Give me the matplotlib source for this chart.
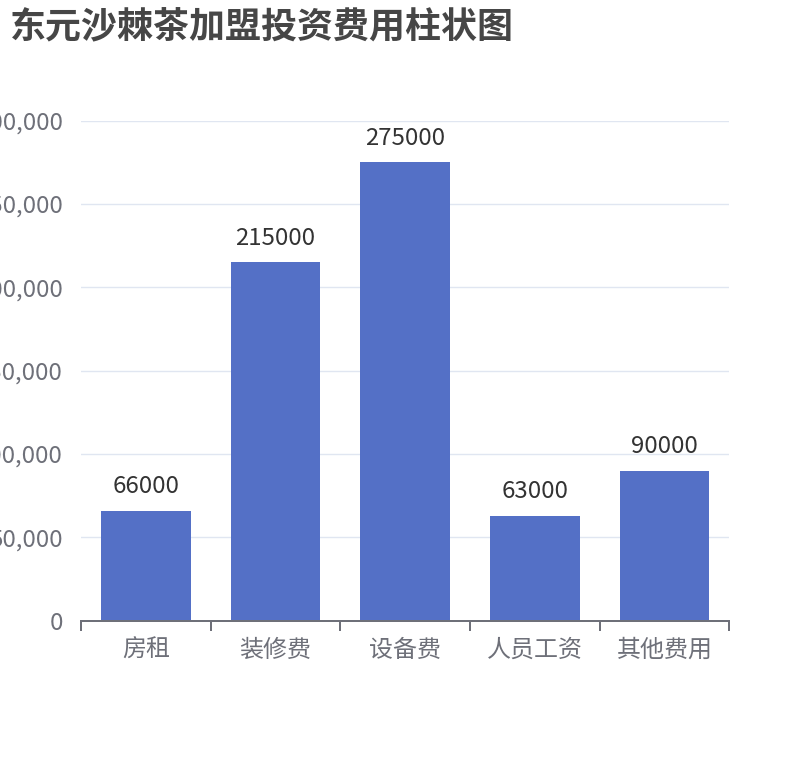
import matplotlib
matplotlib.use("Agg")
import matplotlib.pyplot as plt
from matplotlib.ticker import FuncFormatter, FixedLocator

plt.rcParams['font.family'] = ['Noto Sans CJK SC', 'DejaVu Sans']

title = "东元沙棘茶加盟投资费用柱状图"
categories = ["房租", "装修费", "设备费", "人员工资", "其他费用"]
values = [66000, 215000, 275000, 63000, 90000]
y_ticks = [0, 50000, 100000, 150000, 200000, 250000, 300000]

PX = 0.72  # points per pixel at dpi 100
W, H = 810, 760

fig = plt.figure(figsize=(W / 100, H / 100), dpi=100)
ax = fig.add_axes([81 / W, (H - 620.7) / H, (729.3 - 81) / W, (620.7 - 120.7) / H])

x = list(range(len(categories)))
bars = ax.bar(x, values, width=0.69, color="#5470c6", zorder=3)

ax.set_xlim(-0.5, len(categories) - 0.5)
ax.set_ylim(y_ticks[0], y_ticks[-1])
ax.set_yticks(y_ticks)
ax.yaxis.set_major_formatter(FuncFormatter(lambda v, p: f"{int(v):,}"))
ax.grid(axis="y", color="#E0E6F1", linewidth=1.0, zorder=0)
ax.set_axisbelow(True)

for s in ["top", "right", "left"]:
    ax.spines[s].set_visible(False)
ax.spines["bottom"].set_color("#6E7079")
ax.spines["bottom"].set_linewidth(2 * PX)
ax.spines["bottom"].set_zorder(4)

ax.tick_params(axis="y", length=0, pad=18 * PX, labelsize=24 * PX, labelcolor="#6E7079")
ax.set_xticks(x)
ax.set_xticklabels(categories)
ax.tick_params(axis="x", which="major", length=0, pad=18 * PX, labelsize=24 * PX, labelcolor="#6E7079")
ax.xaxis.set_minor_locator(FixedLocator([i - 0.5 for i in range(len(categories) + 1)]))
ax.tick_params(axis="x", which="minor", length=10 * PX, width=2 * PX, color="#6E7079")

for xi, v in zip(x, values):
    ax.annotate(f"{v}", (xi, v), xytext=(0, 17.5 * PX), textcoords="offset points",
                ha="center", va="baseline", fontsize=24 * PX, color="#333333", zorder=5)

fig.text(10 / W, 1 - 9 / H, title, ha="left", va="top", fontsize=36 * PX,
         fontweight="bold", color="#464646")

fig.savefig("out.png", dpi=100)
